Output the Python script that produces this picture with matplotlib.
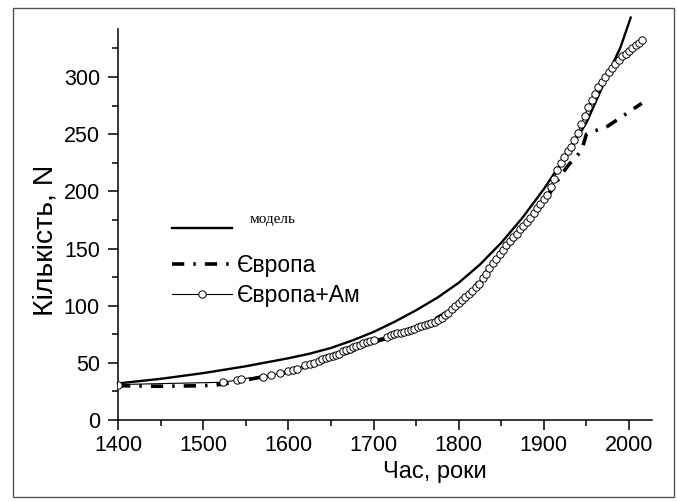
import matplotlib.pyplot as plt
from matplotlib.patches import Rectangle
from matplotlib.transforms import Bbox, TransformedBbox

# model curve
model_years = [1400, 1425, 1450, 1475, 1500, 1525, 1550, 1575, 1600, 1625, 1650,
               1675, 1700, 1725, 1750, 1775, 1800, 1825, 1850, 1875, 1900, 1925,
               1950, 1975, 1990, 2002]
model_n = [32, 34, 36, 38.5, 41, 44, 47, 50.5, 54, 58, 63,
           69.5, 77, 86, 96, 107, 120, 136, 155, 177, 202, 230,
           260, 302, 326, 352]

# Європа
eu_years = [1400, 1450, 1500, 1520, 1550, 1600, 1650, 1700, 1750, 1800, 1850,
            1900, 1920, 1930, 1940, 1946, 1950, 1955, 1965, 1975, 1985, 1995,
            2005, 2015]
eu_n = [30, 29.5, 30, 31, 35, 42, 53, 68, 79, 100, 145,
        190, 214, 224, 232, 240, 250, 252, 254, 257, 262, 267,
        272, 277]

# Європа+Ам
am_years = [1400, 1523, 1540, 1545, 1570, 1580, 1590, 1600, 1605, 1610, 1620,
            1625, 1630, 1636,
            1640, 1644, 1648, 1652, 1656, 1660, 1664, 1668, 1672, 1676, 1680,
            1684, 1688, 1692, 1696, 1700, 1716, 1720, 1724, 1728, 1732, 1736,
            1740, 1744, 1748, 1752, 1756, 1760, 1764, 1768, 1772, 1776, 1780,
            1784, 1788, 1792, 1796, 1800, 1804, 1808, 1812, 1816, 1820, 1824,
            1828, 1832, 1836, 1840, 1844, 1848, 1852, 1856, 1860, 1864, 1868,
            1872, 1876, 1880, 1884, 1888, 1892, 1896, 1900, 1904, 1908, 1912,
            1916, 1920, 1924, 1928, 1932, 1936, 1940, 1944, 1948, 1952, 1956,
            1960, 1964, 1968, 1972, 1976, 1980, 1984, 1988, 1992, 1996, 2000,
            2004, 2008, 2012, 2015]
am_n = [31, 33, 35, 36, 38, 39, 41, 43, 44, 45, 48,
        49, 50, 51.5,
        53, 54, 55, 56, 57, 58, 60, 61, 62, 64, 65,
        66, 67, 68, 69, 70, 73, 74, 75, 76, 76.5, 77,
        78, 79, 80, 81, 82, 83, 84, 85, 86, 87.5, 89,
        91.5, 94, 97, 100, 102, 105, 108, 110, 113, 116, 119,
        124, 128, 133, 137, 141, 145, 149, 153, 157, 160, 163,
        167, 170, 173, 177, 181, 185, 189, 193, 197, 204, 211,
        219, 225, 230, 235, 239, 245, 251, 259, 266, 274, 280,
        285, 291, 296, 300, 304, 308, 311, 314.5, 318, 320.5, 323,
        325.5, 328, 330, 332]

x_ticks = [1400, 1500, 1600, 1700, 1800, 1900, 2000]
y_ticks = [0, 50, 100, 150, 200, 250, 300]

plt.rcParams['font.family'] = ['Liberation Sans', 'DejaVu Sans']

fig = plt.figure(figsize=(6.78, 5.01), dpi=100)
ax = fig.add_axes([118 / 678, 81 / 501, 534 / 678, 391 / 501])

ax.plot(model_years, model_n, color='black', lw=1.7, clip_on=False, zorder=3)
ax.plot(eu_years, eu_n, color='black', lw=2.6, dashes=(3.4, 2.5, 0.7, 2.5),
        zorder=2)
ax.plot(am_years, am_n, color='black', lw=0.8, marker='o', markersize=5.3,
        markerfacecolor='white', markeredgecolor='black', markeredgewidth=0.7,
        zorder=4)

ax.set_xlim(1400, 2027)
ax.set_ylim(0, 342)
ax.set_xticks(x_ticks)
ax.set_yticks(y_ticks)
ax.set_xticks(range(1450, 2000, 100), minor=True)
ax.set_yticks(range(25, 340, 50), minor=True)
ax.tick_params(which='major', length=7, width=1.1, labelsize=15.5)
ax.tick_params(which='minor', length=4, width=1.1)
ax.tick_params(axis='x', which='major', pad=4)
ax.tick_params(axis='y', which='major', pad=6)
for side in ['top', 'right']:
    ax.spines[side].set_visible(False)
for side in ['left', 'bottom']:
    ax.spines[side].set_linewidth(1.1)

ax.set_xlabel('Час, роки', fontsize=17)
ax.set_ylabel('Кількість, N', fontsize=20.5)
ax.xaxis.set_label_coords(0.594, -0.105)
ax.yaxis.set_label_coords(-0.112, 0.46)

# cut the labels at the right edge of the axis, as in the original
clip = TransformedBbox(Bbox([[0, 0], [652 / 678, 1]]), fig.transFigure)
for lab in ax.get_xticklabels():
    lab.set_clip_box(clip)
    lab.set_clip_on(True)

h_model = plt.Line2D([], [], color='black', lw=1.7)
h_eu = plt.Line2D([], [], color='black', lw=2.6, dashes=(3.4, 2.5, 0.7, 2.5))
h_am = plt.Line2D([], [], color='black', lw=0.8, marker='o', markersize=5.3,
                  markerfacecolor='white', markeredgewidth=0.7)

leg1 = ax.legend([h_model], ['модель'], loc='upper left',
                 bbox_to_anchor=(172 / 678, 1 - 223 / 501),
                 bbox_transform=fig.transFigure, frameon=False, borderpad=0,
                 borderaxespad=0, handlelength=3.9, handletextpad=1.2,
                 prop={'family': 'Liberation Serif', 'size': 11})
leg1.get_texts()[0].set_y(11)
ax.add_artist(leg1)
ax.legend([h_eu, h_am], ['Європа', 'Європа+Ам'], loc='upper left',
          bbox_to_anchor=(172 / 678, 1 - 254 / 501),
          bbox_transform=fig.transFigure, frameon=False, borderpad=0,
          borderaxespad=0, handlelength=2.6, handletextpad=0.25,
          labelspacing=0.3, numpoints=1, fontsize=16.5)

# outer frame
fig.patches.append(Rectangle((13 / 678, 4 / 501), 661 / 678, 489 / 501,
                             transform=fig.transFigure, fill=False,
                             edgecolor='#555555', lw=1))

fig.savefig('out.png', dpi=100)
